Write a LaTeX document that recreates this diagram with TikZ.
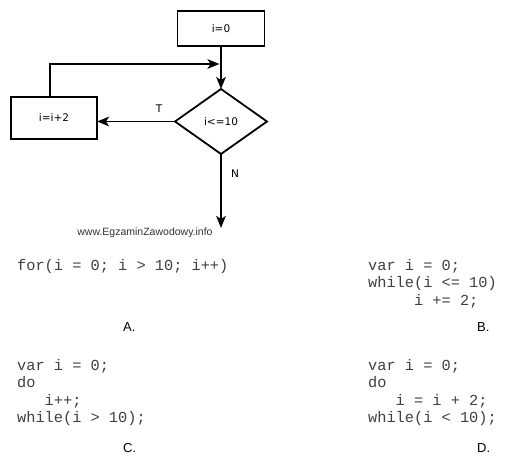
\documentclass[tikz,border=0pt]{standalone}
\usepackage{fontspec}
\setmainfont{Liberation Sans}
\newfontfamily\flowfont{DejaVu Sans}
\newfontfamily\codefont{Liberation Mono}
\usetikzlibrary{shapes.geometric,arrows.meta}
\begin{document}
\begin{tikzpicture}[x=1pt,y=-1pt,
  box/.style={draw,line width=1.8pt,inner sep=0pt,outer sep=0pt,font=\flowfont\fontsize{10.5}{12}\selectfont},
  dec/.style={draw,diamond,line width=1.8pt,inner sep=0pt,outer sep=0pt,minimum width=92pt,minimum height=65pt,aspect=1.415,font=\flowfont\fontsize{10.5}{12}\selectfont},
  arr/.style={line width=1.8pt,-{Stealth[length=12pt,width=9.5pt,inset=3pt]}},
  flab/.style={inner sep=0pt,font=\flowfont\fontsize{10.5}{12}\selectfont},
  code/.style={anchor=base west,inner sep=0pt,font=\codefont\fontsize{15.3}{17}\selectfont,text=black!75},
  lab/.style={anchor=base west,inner sep=0pt,font=\fontsize{13}{15}\selectfont},
  ]
\useasboundingbox (0,0) rectangle (525,471);
\fill[white] (0,0) rectangle (525,471);
% flowchart
\node[box,minimum width=87pt,minimum height=35pt] (init) at (221,28.5) {i=0};
\node[dec] (dec) at (221,121.5) {i<=10};
\node[box,minimum width=86pt,minimum height=42pt] (upd) at (54,118) {i=i+2};
\coordinate (fb) at (50,97);
\coordinate (join) at (219.5,64);
\coordinate (exit) at (221,228);
\draw[arr] (init.south) -- (dec.north);
\draw[arr] (dec.west) -- (dec.west -| upd.east);
\draw[arr] (fb) |- (join);
\draw[arr] (dec.south) -- (exit);
\node[flab] (tl) at (159,109) {T};
\node[flab] (nl) at (235,174) {N};
\node[inner sep=0pt,font=\fontsize{10.5}{12}\selectfont,text=black!80] (wm) at (145,233) {www.EgzaminZawodowy.info};
% answers
\node[code] (a1) at (17,270) {for(i = 0; i > 10; i++)};
\node[lab] (la) at (123,331) {A.};
\node[code] (b1) at (368,270) {var i = 0;};
\node[code] (b2) at (368,287.5) {while(i <= 10)};
\node[code] (b3) at (368,305) {\hphantom{xxxxx}i += 2;};
\node[lab] (lb) at (477,331) {B.};
\node[code] (c1) at (17,370) {var i = 0;};
\node[code] (c2) at (17,387.5) {do};
\node[code] (c3) at (17,405) {\hphantom{xxx}i++;};
\node[code] (c4) at (17,422.5) {while(i > 10);};
\node[lab] (lc) at (123,452) {C.};
\node[code] (d1) at (368,370) {var i = 0;};
\node[code] (d2) at (368,387.5) {do};
\node[code] (d3) at (368,405) {\hphantom{xxx}i = i + 2;};
\node[code] (d4) at (368,422.5) {while(i < 10);};
\node[lab] (ld) at (477,452) {D.};
\end{tikzpicture}
\end{document}
